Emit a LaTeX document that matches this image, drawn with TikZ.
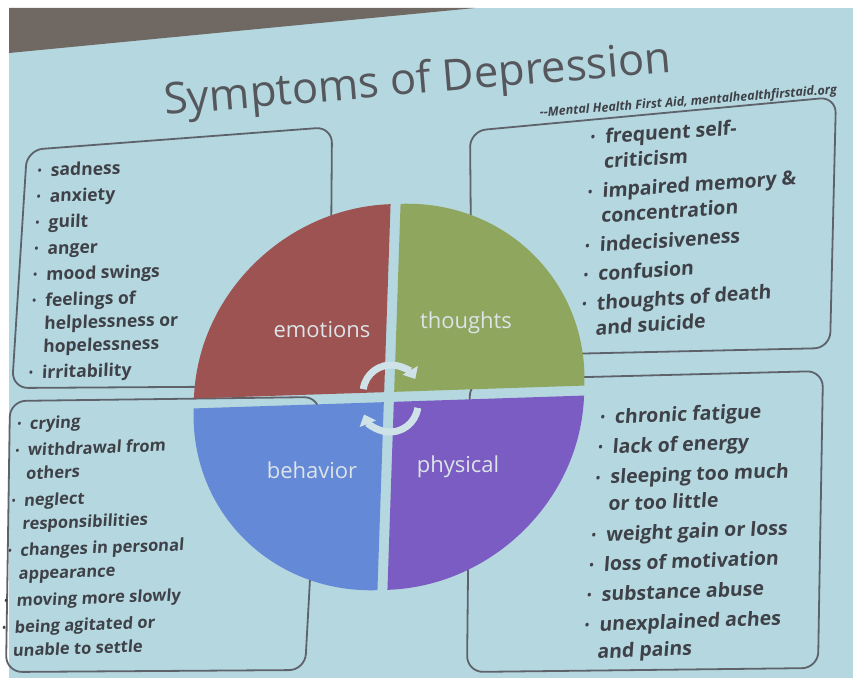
\documentclass[tikz,border=0pt]{standalone}
\usepackage{fontspec}
\setmainfont{Open Sans}
\usetikzlibrary{arrows.meta}
\definecolor{bgcyan}{HTML}{B5D7DF}
\definecolor{wall}{HTML}{6F6863}
\definecolor{boxgray}{HTML}{5E636B}
\definecolor{txtgray}{HTML}{3E4147}
\definecolor{titlegray}{HTML}{55575C}
\definecolor{qred}{HTML}{9C5352}
\definecolor{qgreen}{HTML}{8EA65D}
\definecolor{qblue}{HTML}{6489D6}
\definecolor{qpurple}{HTML}{7B5CC2}
\definecolor{labwhite}{HTML}{DCE4E8}
\definecolor{arrowwhite}{HTML}{CFE2E8}
\newcommand\itm{\makebox[0.75em][l]{\raisebox{0.12em}{\scalebox{0.6}{\textbullet}}}}
\newcommand\cnt{\hspace*{0.75em}}
\tikzset{
  boxline/.style={draw=boxgray, line width=1.8pt, rounded corners=16pt},
  listtxt/.style={anchor=north west, align=left, text=txtgray, inner sep=0pt, font=\bfseries},
  qlabel/.style={text=labwhite, font=\fontsize{22}{24}\selectfont},
  cyclearrow/.style={line width=7pt, draw=arrowwhite, -{Triangle[width=17pt,length=10pt]}}
}
\begin{document}
\begin{tikzpicture}[x=1pt,y=1pt]
\useasboundingbox (0,0) rectangle (853,-685);
\clip (0,0) rectangle (853,-685);
% photo background
\fill[white] (0,0) rectangle (853,-685);
\fill[bgcyan] (9,-8) rectangle (853,-678);
\fill[wall] (9,-8) -- (475,-8) -- (9,-53) -- cycle;

% title and citation
\node[anchor=base west, inner sep=0pt, text=titlegray, rotate=4.8,
      font=\fontsize{43.5}{46}\selectfont] (title) at (165,-115) {Symptoms of Depression};
\node[anchor=base west, inner sep=0pt, text=txtgray, rotate=4.5,
      font=\fontsize{12.5}{14}\selectfont\bfseries\itshape] (cite) at (540,-117)
      {-{}-Mental Health First Aid, mentalhealthfirstaid.org};

% boxes
\draw[boxline] (27,-150) -- (332,-127) -- (330,-386) -- (12,-388) -- cycle;
\draw[boxline] (10,-401) -- (320,-397) -- (305,-670) -- (6,-672) -- cycle;
\draw[boxline] (470,-131) -- (836,-97) -- (830,-348) -- (472,-356) -- cycle;
\draw[boxline] (470,-380) -- (823,-371) -- (818,-668) -- (467,-672) -- cycle;

% circle of four quadrants
\begin{scope}[shift={(389,-397)}, xslant=0.034, yslant=0.033]
  \fill[qred]    (-5,5)  -- (-5,193)  arc[start angle=90,  end angle=180, x radius=190, y radius=188] -- cycle;
  \fill[qgreen]  (5,5)   -- (5,193)   arc[start angle=90,  end angle=0,   x radius=190, y radius=188] -- cycle;
  \fill[qblue]   (-5,-5) -- (-5,-193) arc[start angle=270, end angle=180, x radius=190, y radius=188] -- cycle;
  \fill[qpurple] (5,-5)  -- (5,-193)  arc[start angle=270, end angle=360, x radius=190, y radius=188] -- cycle;
\end{scope}

% cycle arrows at the centre
\draw[cyclearrow] (391,-393) ++(172:28) arc[start angle=172, end angle=30, radius=28];
\draw[cyclearrow] (390,-404) ++(-8:28) arc[start angle=-8, end angle=-158, radius=28];

% quadrant labels
\node[qlabel] (emo) at (322,-330) {emotions};
\node[qlabel] (tho) at (466,-323) {thoughts};
\node[qlabel] (beh) at (312,-470) {behavior};
\node[qlabel] (phy) at (458,-467) {physical};

% lists
\node[listtxt, rotate=1.5, xslant=0.07, font=\fontsize{17.5}{23}\selectfont\bfseries] (emolist) at (38,-163) {%
\itm sadness\\[3pt]
\itm anxiety\\[3pt]
\itm guilt\\[3pt]
\itm anger\\[3pt]
\itm mood swings\\[3pt]
\itm feelings of\\
\cnt helplessness or\\
\cnt hopelessness\\[3pt]
\itm irritability};

\node[listtxt, rotate=2, xslant=0.11, font=\fontsize{16.5}{23.5}\selectfont\bfseries] (behlist) at (18,-417) {%
\itm crying\\[3pt]
\itm withdrawal from\\
\cnt others\\[3pt]
\itm neglect\\
\cnt responsibilities\\[3pt]
\itm changes in personal\\
\cnt appearance\\[3pt]
\itm moving more slowly\\[3pt]
\itm being agitated or\\
\cnt unable to settle};

\node[listtxt, rotate=3.7, xslant=0.115, font=\fontsize{19.5}{25}\selectfont\bfseries] (tholist) at (591,-129) {%
\itm frequent self-\\
\cnt criticism\\[4pt]
\itm impaired memory \&\\
\cnt concentration\\[4pt]
\itm indecisiveness\\[4pt]
\itm confusion\\[4pt]
\itm thoughts of death\\
\cnt and suicide};

\node[listtxt, rotate=2, xslant=0.11, font=\fontsize{19.5}{27}\selectfont\bfseries] (phylist) at (601,-409) {%
\itm chronic fatigue\\[3pt]
\itm lack of energy\\[3pt]
\itm sleeping too much\\
\cnt or too little\\[3pt]
\itm weight gain or loss\\[3pt]
\itm loss of motivation\\[3pt]
\itm substance abuse\\[3pt]
\itm unexplained aches\\
\cnt and pains};
\end{tikzpicture}
\end{document}
